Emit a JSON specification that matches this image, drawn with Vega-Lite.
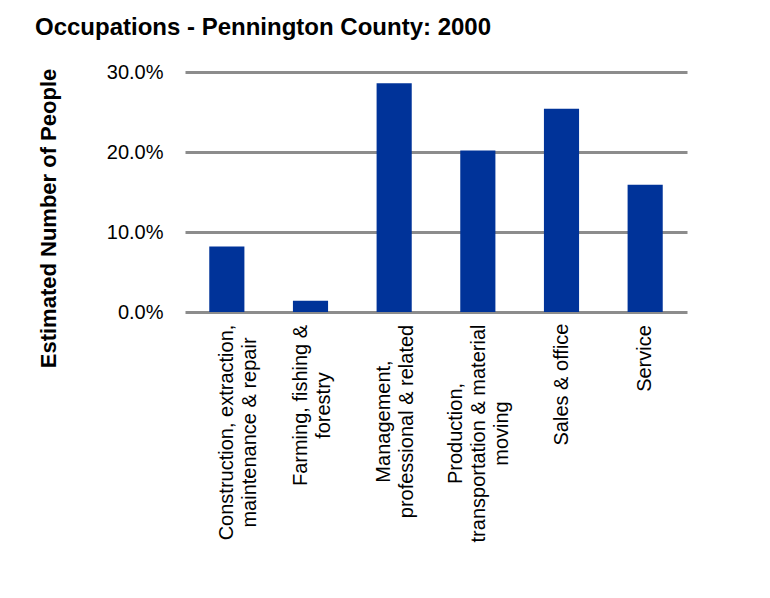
{
  "$schema": "https://vega.github.io/schema/vega-lite/v6.json",
  "width": 502,
  "height": 240,
  "autosize": {"type": "none"},
  "padding": {"left": 185, "top": 72, "right": 83, "bottom": 286},
  "background": "white",
  "title": {
    "text": "Occupations - Pennington County: 2000",
    "anchor": "start",
    "frame": "group",
    "dx": -150,
    "offset": 22,
    "font": "Liberation Sans",
    "fontSize": 24,
    "fontWeight": "bold",
    "color": "black"
  },
  "data": {
    "values": [
      {"occupation": "Construction, extraction,\nmaintenance & repair", "share": 0.082},
      {"occupation": "Farming, fishing &\nforestry", "share": 0.014},
      {"occupation": "Management,\nprofessional & related", "share": 0.286},
      {"occupation": "Production,\ntransportation & material\nmoving", "share": 0.202},
      {"occupation": "Sales & office", "share": 0.254},
      {"occupation": "Service", "share": 0.159}
    ]
  },
  "mark": {"type": "bar", "color": "#003399"},
  "encoding": {
    "x": {
      "field": "occupation",
      "type": "nominal",
      "sort": null,
      "scale": {"paddingInner": 0.58, "paddingOuter": 0.29},
      "axis": {
        "title": null,
        "labelAngle": -90,
        "labelAlign": "center",
        "labelBaseline": "middle",
        "labelPadding": {
          "condition": [
            {"test": "indexof(datum.value, 'Construction') >= 0", "value": 120},
            {"test": "indexof(datum.value, 'Farming') >= 0", "value": 93},
            {"test": "indexof(datum.value, 'Management') >= 0", "value": 109},
            {"test": "indexof(datum.value, 'Production') >= 0", "value": 121},
            {"test": "indexof(datum.value, 'Sales') >= 0", "value": 72}
          ],
          "value": 46
        },
        "labelOffset": {
          "condition": [
            {"test": "indexof(datum.value, 'Farming') >= 0", "value": -10},
            {"test": "indexof(datum.value, 'Management') >= 0", "value": -10},
            {"test": "indexof(datum.value, 'Production') >= 0", "value": -22}
          ],
          "value": 0
        },
        "labelFont": "Liberation Sans",
        "labelFontSize": 20,
        "labelLineHeight": 23,
        "labelColor": "black",
        "labelExpr": "split(datum.label, '\\n')",
        "domain": false,
        "ticks": false,
        "labelLimit": 0
      }
    },
    "y": {
      "field": "share",
      "type": "quantitative",
      "scale": {"domain": [0, 0.3], "nice": false},
      "axis": {
        "title": "Estimated Number of People",
        "titleFont": "Liberation Sans",
        "titleFontSize": 22,
        "titleFontWeight": "bold",
        "titleColor": "black",
        "titleX": -137,
        "titleY": 146,
        "titleAlign": "center",
        "titleBaseline": "middle",
        "titleAngle": -90,
        "values": [0, 0.1, 0.2, 0.3],
        "format": ".1%",
        "labelFont": "Liberation Sans",
        "labelFontSize": 20,
        "labelColor": "black",
        "labelPadding": 22,
        "domain": false,
        "ticks": false,
        "grid": true,
        "gridColor": "#8c8c8c",
        "gridWidth": 3
      }
    }
  },
  "config": {
    "view": {"stroke": null},
    "axis": {"zindex": 1}
  }
}
